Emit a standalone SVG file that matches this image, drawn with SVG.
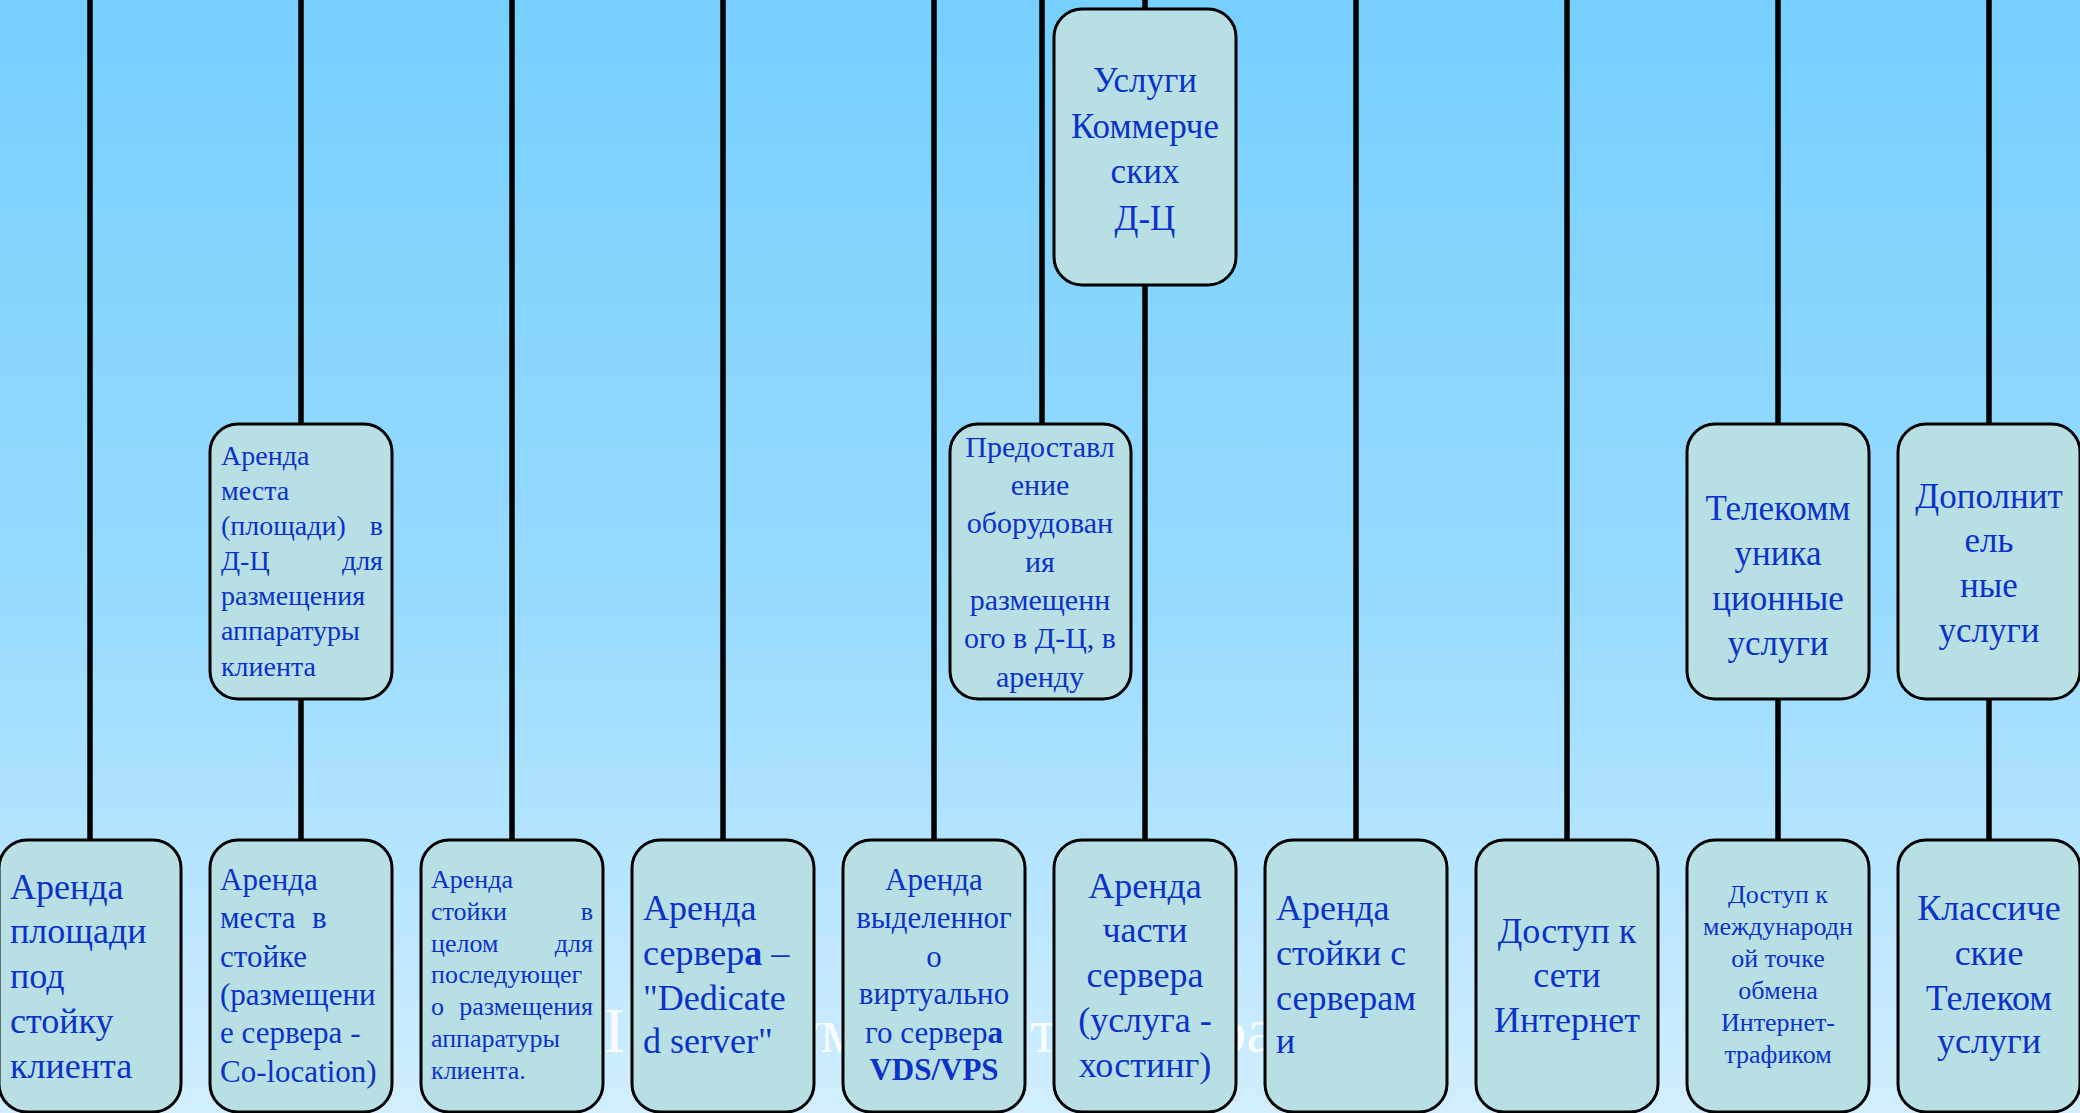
<svg xmlns="http://www.w3.org/2000/svg" width="2080" height="1113" viewBox="0 0 2080 1113">
<defs>
<linearGradient id="bg" x1="0" y1="0" x2="0" y2="1">
<stop offset="0" stop-color="#76CFFE"/>
<stop offset="0.55" stop-color="#99DBFF"/>
<stop offset="1" stop-color="#D2EEFF"/>
</linearGradient>
<style>
.box{fill:#B8DFE3;stroke:#000;stroke-width:3}
.t{font-family:"Liberation Serif","Times New Roman",serif;fill:#0B32C8}
.c{text-anchor:middle}
.e{text-anchor:end}
.f36{font-size:36px}
.f35{font-size:35px}
.f31{font-size:31px}
.f30{font-size:30px}
.f28{font-size:28px}
.f26{font-size:26px}
.b{font-weight:bold}
.ln{stroke:#000;stroke-width:5.5;fill:none}
.wm{font-family:"Liberation Serif","Times New Roman",serif;font-size:63px;fill:#FFFFFF;fill-opacity:0.9}
</style>
</defs>
<rect x="0" y="0" width="2080" height="1113" fill="url(#bg)"/>
<g id="watermark">
<text class="wm" x="604" y="1052">I</text>
<text class="wm" x="790" y="1052">ум</text>
<text class="wm" x="1030" y="1052">т</text>
<text class="wm" x="1215" y="1052">ра</text>
</g>
<g id="connectors">
<line class="ln" x1="90" y1="0" x2="90" y2="840"/>
<line class="ln" x1="301" y1="0" x2="301" y2="424"/>
<line class="ln" x1="301" y1="699" x2="301" y2="840"/>
<line class="ln" x1="512" y1="0" x2="512" y2="840"/>
<line class="ln" x1="723" y1="0" x2="723" y2="840"/>
<line class="ln" x1="934" y1="0" x2="934" y2="840"/>
<line class="ln" x1="1042" y1="0" x2="1042" y2="424"/>
<line class="ln" x1="1145" y1="0" x2="1145" y2="9"/>
<line class="ln" x1="1145" y1="285" x2="1145" y2="840"/>
<line class="ln" x1="1356" y1="0" x2="1356" y2="840"/>
<line class="ln" x1="1567" y1="0" x2="1567" y2="840"/>
<line class="ln" x1="1778" y1="0" x2="1778" y2="424"/>
<line class="ln" x1="1778" y1="699" x2="1778" y2="840"/>
<line class="ln" x1="1989" y1="0" x2="1989" y2="424"/>
<line class="ln" x1="1989" y1="699" x2="1989" y2="840"/>
</g>
<g id="n-root">
<rect class="box" x="1054" y="9" width="182" height="276" rx="28"/>
<text class="t c f35" x="1145"><tspan x="1145" y="92">Услуги</tspan><tspan x="1145" y="138">Коммерче</tspan><tspan x="1145" y="183">ских</tspan><tspan x="1145" y="230">Д-Ц</tspan></text>
</g>
<g id="n-place">
<rect class="box" x="210" y="424" width="182" height="275" rx="28"/>
<text class="t f28"><tspan x="221" y="465">Аренда</tspan><tspan x="221" y="500">места</tspan><tspan x="221" y="535">(площади)</tspan><tspan x="221" y="570">Д-Ц</tspan><tspan x="221" y="605">размещения</tspan><tspan x="221" y="640">аппаратуры</tspan><tspan x="221" y="676">клиента</tspan></text>
<text class="t f28 e"><tspan x="383" y="535">в</tspan><tspan x="383" y="570">для</tspan></text>
</g>
<g id="n-equip">
<rect class="box" x="950" y="424" width="181" height="275" rx="28"/>
<text class="t c f30"><tspan x="1040" y="457">Предоставл</tspan><tspan x="1040" y="495">ение</tspan><tspan x="1040" y="533">оборудован</tspan><tspan x="1040" y="572">ия</tspan><tspan x="1040" y="610">размещенн</tspan><tspan x="1040" y="648">ого в Д-Ц, в</tspan><tspan x="1040" y="687">аренду</tspan></text>
</g>
<g id="n-telecom">
<rect class="box" x="1687" y="424" width="182" height="275" rx="28"/>
<text class="t c f35"><tspan x="1778" y="520">Телекомм</tspan><tspan x="1778" y="565">уника</tspan><tspan x="1778" y="610">ционные</tspan><tspan x="1778" y="655">услуги</tspan></text>
</g>
<g id="n-extra">
<rect class="box" x="1898" y="424" width="182" height="275" rx="28"/>
<text class="t c f35"><tspan x="1989" y="508">Дополнит</tspan><tspan x="1989" y="552">ель</tspan><tspan x="1989" y="597">ные</tspan><tspan x="1989" y="642">услуги</tspan></text>
</g>
<g id="n-area">
<rect class="box" x="-1" y="840" width="182" height="272" rx="28"/>
<text class="t f36"><tspan x="10" y="899">Аренда</tspan><tspan x="10" y="943">площади</tspan><tspan x="10" y="988">под</tspan><tspan x="10" y="1033">стойку</tspan><tspan x="10" y="1078">клиента</tspan></text>
</g>
<g id="n-coloc">
<rect class="box" x="210" y="840" width="182" height="272" rx="28"/>
<text class="t f31"><tspan x="220" y="890">Аренда</tspan><tspan x="220" y="928">места</tspan><tspan x="220" y="967">стойке</tspan><tspan x="220" y="1005">(размещени</tspan><tspan x="220" y="1043">е сервера -</tspan><tspan x="220" y="1082">Co-location)</tspan></text>
<text class="t f31" x="312" y="928">в</text>
</g>
<g id="n-rack">
<rect class="box" x="421" y="840" width="182" height="272" rx="28"/>
<text class="t f26"><tspan x="431" y="888">Аренда</tspan><tspan x="431" y="920">стойки</tspan><tspan x="431" y="952">целом</tspan><tspan x="431" y="983">последующег</tspan><tspan x="431" y="1015">о</tspan><tspan x="431" y="1047">аппаратуры</tspan><tspan x="431" y="1079">клиента.</tspan></text>
<text class="t f26 e"><tspan x="593" y="920">в</tspan><tspan x="593" y="952">для</tspan><tspan x="593" y="1015">размещения</tspan></text>
</g>
<g id="n-dedicated">
<rect class="box" x="632" y="840" width="182" height="272" rx="28"/>
<text class="t f36"><tspan x="643" y="920">Аренда</tspan><tspan x="643" y="965">сервер<tspan class="b">а</tspan> –</tspan><tspan x="643" y="1010">"Dedicate</tspan><tspan x="643" y="1053">d server"</tspan></text>
</g>
<g id="n-vds">
<rect class="box" x="843" y="840" width="182" height="272" rx="28"/>
<text class="t c f31"><tspan x="934" y="890">Аренда</tspan><tspan x="934" y="928">выделенног</tspan><tspan x="934" y="967">о</tspan><tspan x="934" y="1004">виртуально</tspan><tspan x="934" y="1043">го сервер<tspan class="b">а</tspan></tspan><tspan x="934" y="1080" class="b">VDS/VPS</tspan></text>
</g>
<g id="n-hosting">
<rect class="box" x="1054" y="840" width="182" height="272" rx="28"/>
<text class="t c f36"><tspan x="1145" y="898">Аренда</tspan><tspan x="1145" y="942">части</tspan><tspan x="1145" y="987">сервера</tspan><tspan x="1145" y="1032">(услуга -</tspan><tspan x="1145" y="1077">хостинг)</tspan></text>
</g>
<g id="n-rackservers">
<rect class="box" x="1265" y="840" width="182" height="272" rx="28"/>
<text class="t f36"><tspan x="1276" y="920">Аренда</tspan><tspan x="1276" y="965">стойки с</tspan><tspan x="1276" y="1010">серверам</tspan><tspan x="1276" y="1053">и</tspan></text>
</g>
<g id="n-internet">
<rect class="box" x="1476" y="840" width="182" height="272" rx="28"/>
<text class="t c f36"><tspan x="1567" y="943">Доступ к</tspan><tspan x="1567" y="987">сети</tspan><tspan x="1567" y="1032">Интернет</tspan></text>
</g>
<g id="n-ix">
<rect class="box" x="1687" y="840" width="182" height="272" rx="28"/>
<text class="t c f26"><tspan x="1778" y="903">Доступ к</tspan><tspan x="1778" y="935">международн</tspan><tspan x="1778" y="967">ой точке</tspan><tspan x="1778" y="999">обмена</tspan><tspan x="1778" y="1031">Интернет-</tspan><tspan x="1778" y="1063">трафиком</tspan></text>
</g>
<g id="n-classic">
<rect class="box" x="1898" y="840" width="182" height="272" rx="28"/>
<text class="t c f36"><tspan x="1989" y="920">Классиче</tspan><tspan x="1989" y="965">ские</tspan><tspan x="1989" y="1010">Телеком</tspan><tspan x="1989" y="1053">услуги</tspan></text>
</g>
</svg>
